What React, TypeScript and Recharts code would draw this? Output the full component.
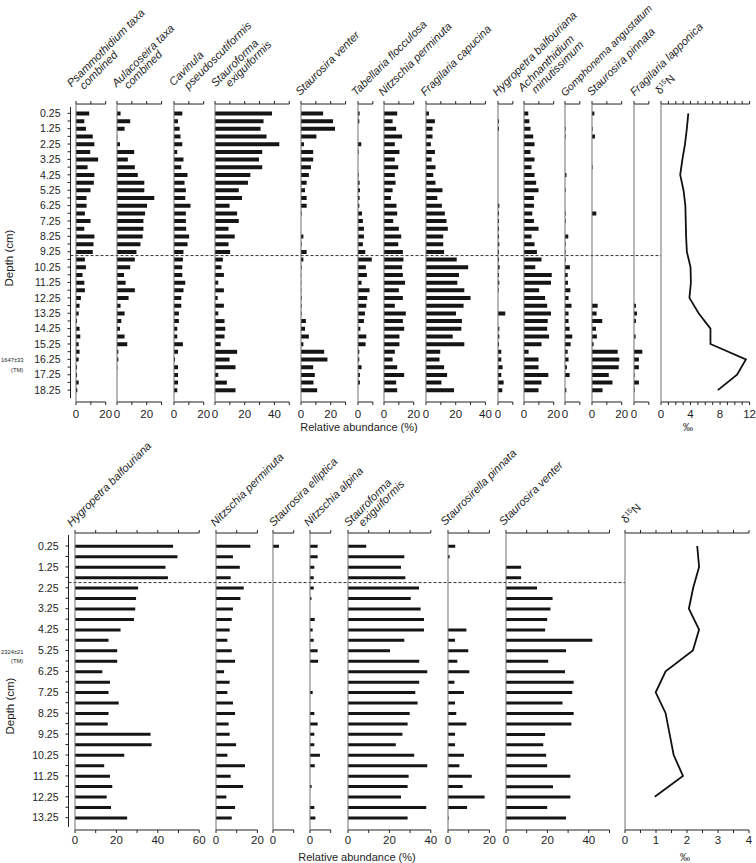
import React from "react";
import { Bar, ComposedChart, Line, ReferenceLine, XAxis, YAxis } from "recharts";

const FONT = "'Liberation Sans', Arial, Helvetica, sans-serif";

// depth categories (cm)
const topDepths = [0.25, 0.75, 1.25, 1.75, 2.25, 2.75, 3.25, 3.75, 4.25, 4.75, 5.25, 5.75, 6.25, 6.75, 7.25, 7.75, 8.25, 8.75, 9.25, 9.75, 10.25, 10.75, 11.25, 11.75, 12.25, 12.75, 13.25, 13.75, 14.25, 14.75, 15.25, 15.75, 16.25, 16.75, 17.25, 17.75, 18.25];
const bottomDepths = [0.25, 0.75, 1.25, 1.75, 2.25, 2.75, 3.25, 3.75, 4.25, 4.75, 5.25, 5.75, 6.25, 6.75, 7.25, 7.75, 8.25, 8.75, 9.25, 9.75, 10.25, 10.75, 11.25, 11.75, 12.25, 12.75, 13.25];
const topIsoDepths = [0.25, 1.25, 2.25, 3.25, 4.25, 5.25, 6.25, 7.25, 8.25, 9.25, 10.25, 11.25, 12.25, 13.25, 14.25, 15.25, 16.25, 17.25, 18.25];
const bottomIsoDepths = [0.25, 1.25, 2.25, 3.25, 4.25, 5.25, 6.25, 7.25, 8.25, 9.25, 10.25, 11.25, 12.25];

// upper core, relative abundance (%)
const psam = [8.9, 5.6, 6.7, 11.3, 12.4, 9.6, 14.9, 7.8, 12.4, 12.0, 9.8, 7.1, 7.1, 6.0, 9.8, 5.6, 12.4, 11.8, 11.3, 6.0, 6.7, 4.4, 5.6, 6.0, 3.3, 2.4, 1.8, 0.7, 2.4, 2.9, 1.8, 2.4, 1.8, 0.7, 0.7, 1.8, 0.9];
const aulac = [2.4, 8.9, 5.1, 0.2, 2.0, 11.6, 7.3, 12.0, 14.0, 18.4, 18.4, 25.1, 20.2, 18.9, 17.8, 17.8, 17.3, 15.8, 13.1, 12.0, 8.9, 4.7, 5.8, 12.0, 7.8, 2.4, 5.1, 2.9, 2.0, 5.1, 6.9, 0.9, 0.9, 0.2, 0, 0, 0];
const cavinula = [5.6, 2.7, 3.8, 4.4, 5.6, 2.2, 6.4, 4.9, 9.1, 7.1, 8.0, 7.6, 11.1, 8.0, 8.0, 8.2, 10.2, 9.1, 6.4, 6.0, 5.6, 5.6, 7.6, 6.4, 4.9, 4.9, 3.3, 3.3, 2.2, 2.2, 6.0, 2.7, 0.7, 2.7, 2.7, 2.7, 2.2];
const stauroforma = [38.4, 32.7, 30.7, 34.7, 43.3, 31.8, 29.6, 31.8, 23.8, 22.2, 16.0, 18.2, 9.8, 14.9, 16.0, 9.1, 13.3, 9.1, 10.2, 5.3, 4.4, 6.0, 2.2, 6.0, 1.8, 6.0, 2.2, 6.4, 6.9, 6.4, 3.8, 14.9, 9.8, 13.8, 2.2, 8.0, 13.8];
const venter = [14.9, 21.6, 22.9, 10.4, 2.0, 8.2, 8.2, 6.7, 5.3, 3.8, 2.7, 3.8, 3.8, 0.4, 0, 0, 1.6, 0.4, 3.8, 1.6, 0.4, 0.2, 0.2, 0.2, 0.4, 0.4, 0.4, 3.3, 2.7, 5.3, 1.6, 15.6, 17.8, 8.2, 9.3, 8.4, 10.9];
const tabellaria = [1.1, 0.9, 0, 0, 2.2, 0.4, 0, 0, 0.4, 1.1, 1.3, 1.1, 0.9, 2.7, 3.3, 4.0, 4.0, 3.3, 4.9, 9.3, 5.3, 6.0, 2.4, 7.8, 6.2, 5.6, 4.7, 4.0, 1.6, 5.6, 5.1, 0.9, 0.9, 2.4, 1.3, 1.3, 0];
const nPerminuta = [8.9, 5.8, 8.2, 12.2, 7.3, 10.4, 7.3, 9.6, 7.3, 7.8, 5.8, 4.7, 8.4, 8.9, 6.2, 10.0, 11.6, 9.6, 12.7, 13.1, 12.2, 12.7, 14.2, 10.0, 12.7, 7.3, 14.7, 12.7, 13.6, 10.4, 10.4, 7.3, 5.8, 8.9, 13.6, 8.2, 8.9];
const fCapucina = [2.0, 6.0, 4.4, 4.4, 3.3, 6.0, 3.8, 6.4, 4.9, 6.4, 11.1, 7.6, 10.7, 12.7, 13.8, 14.7, 11.6, 11.6, 12.2, 20.7, 28.4, 22.2, 21.1, 25.8, 30.0, 25.3, 20.2, 24.2, 23.8, 18.0, 25.8, 9.6, 9.1, 12.2, 14.2, 10.4, 18.9];
const hygropetra = [0, 0.7, 0.7, 0, 0, 0, 0, 0, 0, 0, 0, 0, 0.9, 0.7, 0.7, 0.7, 0.7, 0.9, 0.7, 0.7, 1.1, 0.7, 0.9, 0.4, 0, 0, 4.9, 0, 0.9, 0.9, 0.7, 2.2, 2.2, 3.1, 2.2, 3.8, 2.9];
const achnanthidium = [2.9, 3.6, 4.4, 6.2, 7.1, 4.4, 7.1, 5.1, 7.1, 8.2, 9.8, 6.7, 6.7, 5.6, 6.7, 9.8, 5.1, 7.1, 8.7, 11.8, 7.6, 18.7, 18.2, 10.2, 14.2, 15.6, 18.2, 16.0, 15.6, 16.9, 11.8, 3.1, 9.8, 9.8, 16.4, 11.8, 9.8];
const gomphonema = [0, 0, 0.4, 0.4, 0, 0, 0, 0, 1.0, 0, 0.4, 0, 0, 0.4, 0.4, 0, 2.2, 0.4, 0.4, 0.4, 3.3, 1.8, 2.0, 3.6, 2.4, 4.4, 2.4, 2.4, 3.1, 4.9, 3.8, 1.8, 2.4, 1.3, 3.1, 0, 0.9];
const sPinnata = [1.6, 0, 0.4, 2.0, 0, 0, 0, 0.4, 0, 0, 0, 0, 0, 2.9, 0, 0, 0, 0, 0, 0, 0, 0, 0, 0, 0, 3.8, 3.1, 6.9, 2.7, 3.3, 1.1, 17.3, 18.4, 18.0, 11.3, 13.8, 7.1];
const fLapponica = [0, 0, 0, 0, 0, 0, 0, 0, 0, 0, 0, 0, 0, 0, 0, 0, 0, 0, 0, 0, 0, 0, 0, 0, 0, 1.3, 2.0, 1.3, 0, 1.1, 0, 5.6, 3.3, 3.3, 0.4, 3.3, 0.4];
const topD15N = [3.7, 3.5, 3.25, 2.9, 2.6, 3.05, 3.3, 3.35, 3.4, 3.5, 4.0, 4.05, 3.85, 5.1, 6.7, 6.7, 11.5, 10.3, 7.7];

// lower core, relative abundance (%)
const hygropetraB = [47.4, 49.5, 43.7, 44.9, 30.5, 29.5, 29.1, 28.5, 22.0, 16.2, 20.4, 20.4, 13.2, 16.9, 16.2, 21.1, 16.2, 15.8, 36.5, 37.0, 23.8, 14.1, 16.9, 18.0, 15.3, 17.4, 25.2];
const nPerminutaB = [16.6, 8.2, 11.5, 7.1, 13.4, 11.8, 8.2, 7.6, 6.6, 5.5, 7.6, 9.2, 3.9, 6.6, 5.5, 8.2, 9.2, 6.1, 6.6, 9.7, 5.5, 14.0, 7.1, 13.1, 5.0, 9.2, 7.6];
const ellipticaB = [2.9, 0, 0, 0, 0, 0, 0, 0, 0, 0, 0, 0, 0, 0, 0, 0, 0, 0, 0, 0, 0, 0, 0, 0, 0, 0, 0];
const alpinaB = [3.7, 3.7, 2.1, 1.8, 1.8, 0.7, 0, 2.3, 1.3, 1.8, 3.7, 3.9, 0, 0, 1.3, 0, 2.1, 3.7, 2.1, 2.1, 4.8, 2.3, 0, 0.8, 0, 2.1, 2.6];
const staurofB = [8.8, 27.2, 25.6, 27.7, 34.3, 30.3, 35.1, 36.7, 36.7, 27.2, 20.3, 34.4, 38.3, 34.4, 32.5, 33.6, 29.8, 28.8, 26.3, 23.1, 32.0, 38.3, 29.3, 28.8, 25.6, 37.8, 28.8];
const pinnataB = [3.5, 0.8, 0, 0, 0, 0, 0, 0, 8.9, 3.4, 9.8, 4.5, 10.3, 3.1, 7.7, 3.4, 4.0, 8.9, 3.4, 3.4, 7.7, 5.5, 11.5, 7.1, 17.7, 9.2, 0.3];
const venterB = [0, 0, 7.3, 7.3, 15.0, 22.5, 21.5, 19.9, 18.9, 41.7, 29.0, 20.4, 28.5, 32.7, 32.0, 27.3, 32.7, 31.6, 18.9, 18.0, 19.4, 19.9, 31.1, 22.7, 31.1, 19.9, 29.0];
const bottomD15N = [2.33, 2.39, 2.2, 2.06, 2.39, 2.19, 1.31, 0.99, 1.31, 1.44, 1.57, 1.87, 0.96];

const topRows = topDepths.map((depth, i) => ({
  depth,
  psam: psam[i], aulac: aulac[i], cav: cavinula[i], stauf: stauroforma[i], venter: venter[i],
  tab: tabellaria[i], nperm: nPerminuta[i], fcap: fCapucina[i], hyg: hygropetra[i],
  achn: achnanthidium[i], gomph: gomphonema[i], spinn: sPinnata[i], flapp: fLapponica[i],
}));
const bottomRows = bottomDepths.map((depth, i) => ({
  depth,
  hyg: hygropetraB[i], nperm: nPerminutaB[i], ellip: ellipticaB[i], alpina: alpinaB[i],
  stauf: staurofB[i], pinn: pinnataB[i], venter: venterB[i],
}));
const topIso = topIsoDepths.map((depth, i) => ({ depth, d15n: topD15N[i] }));
const bottomIso = bottomIsoDepths.map((depth, i) => ({ depth, d15n: bottomD15N[i] }));

type Title = [string, number, number, number?];
type Col = { key: string; x0: number; max: number; ticks: number[]; labels: number[]; title?: Title[]; width?: number };
type Panel = {
  y0: number; k: number; scale: number; plotTop: number; plotBottom: number;
  axisTop: number; axisBottom: number; axisX: number; dash: number; dashRight: number;
  ticks: number[]; tickMargin: number; barSize: number;
};

const topPanel: Panel = {
  y0: 113.3, k: 15.38, scale: 1.485, plotTop: 104, plotBottom: 402,
  axisTop: 107, axisBottom: 398, axisX: 70.5, dash: 9.5, dashRight: 661,
  ticks: topDepths, tickMargin: 5, barSize: 4,
};
const bottomPanel: Panel = {
  y0: 546, k: 20.9, scale: 2.07, plotTop: 533, plotBottom: 830,
  axisTop: 535, axisBottom: 827, axisX: 68.5, dash: 2.0, dashRight: 625,
  ticks: bottomDepths, tickMargin: 3, barSize: 3,
};

const topCols: Col[] = [
  { key: "psam", x0: 75.5, max: 20, ticks: [0, 10, 20], labels: [0, 20], title: [["Psammothidium taxa", 71.5, 87.5], ["combined", 84, 90]] },
  { key: "aulac", x0: 116.5, max: 30, ticks: [0, 10, 20, 30], labels: [0, 20], title: [["Aulacoseira taxa", 116.5, 87.5], ["combined", 128.5, 89.5]] },
  { key: "cav", x0: 173.5, max: 20, ticks: [0, 10, 20], labels: [0, 20], title: [["Cavinula", 173.5, 86.5], ["pseudoscutiformis", 188.5, 90]] },
  { key: "stauf", x0: 215, max: 50, ticks: [0, 10, 20, 30, 40, 50], labels: [0, 20, 40], title: [["Stauroforma", 215.5, 87.5], ["exiguiformis", 230, 87.5]] },
  { key: "venter", x0: 301, max: 30, ticks: [0, 10, 20, 30], labels: [0, 20], title: [["Staurosira venter", 300, 96]] },
  { key: "tab", x0: 357.5, max: 10, ticks: [0, 10], labels: [0], title: [["Tabellaria flocculosa", 356, 96.5]] },
  { key: "nperm", x0: 383.5, max: 20, ticks: [0, 10, 20], labels: [0, 20], title: [["Nitzschia perminuta", 383, 96.5]] },
  { key: "fcap", x0: 425.7, max: 40, ticks: [0, 10, 20, 30, 40], labels: [0, 20, 40], title: [["Fragilaria capucina", 425, 96.5]] },
  { key: "hyg", x0: 497.5, max: 10, ticks: [0, 10], labels: [0], title: [["Hygropetra balfouriana", 497, 96.5]] },
  { key: "achn", x0: 523.7, max: 20, ticks: [0, 10, 20], labels: [0, 20], title: [["Achnanthidium", 522.5, 92], ["minutissimum", 536, 94]] },
  { key: "gomph", x0: 565.3, max: 10, ticks: [0, 10], labels: [0], title: [["Gomphonema angustatum", 565, 97, 10.5]] },
  { key: "spinn", x0: 592.3, max: 20, ticks: [0, 10, 20], labels: [0, 20], title: [["Staurosira pinnata", 591.5, 96.5]] },
  { key: "flapp", x0: 633.7, max: 10, ticks: [0, 10], labels: [0], title: [["Fragilaria lapponica", 634.5, 96.5]] },
];
const topIsoCol: Col = { key: "d15n", x0: 660.7, width: 88.6, max: 12, ticks: [0, 1, 2, 3, 4, 5, 6, 7, 8, 9, 10, 11, 12], labels: [0, 4, 8, 12] };

const bottomCols: Col[] = [
  { key: "hyg", x0: 75, max: 60, ticks: [0, 10, 20, 30, 40, 50, 60], labels: [0, 20, 40, 60], title: [["Hygropetra balfouriana", 71.5, 527]] },
  { key: "nperm", x0: 215.7, max: 20, ticks: [0, 10, 20], labels: [0, 20], title: [["Nitzschia perminuta", 215, 527]] },
  { key: "ellip", x0: 273.3, max: 10, ticks: [0, 10], labels: [0], title: [["Staurosira elliptica", 273.5, 527]] },
  { key: "alpina", x0: 310, max: 10, ticks: [0, 10], labels: [0], title: [["Nitzschia alpina", 308.5, 527]] },
  { key: "stauf", x0: 347.7, max: 40, ticks: [0, 10, 20, 30, 40], labels: [0, 20, 40], title: [["Stauroforma", 348.5, 527], ["exiguiformis", 363, 527]] },
  { key: "pinn", x0: 447.7, max: 20, ticks: [0, 10, 20], labels: [0, 20], title: [["Staurosirella pinnata", 445, 526]] },
  { key: "venter", x0: 505.7, max: 50, ticks: [0, 10, 20, 30, 40, 50], labels: [0, 20, 40], title: [["Staurosira venter", 503.5, 526]] },
];
const bottomIsoCol: Col = { key: "d15n", x0: 625.3, width: 124, max: 4, ticks: [0, 0.5, 1, 1.5, 2, 2.5, 3, 3.5, 4], labels: [0, 1, 2, 3, 4] };

const depthDomain = (p: Panel, top: number, bottom: number): [number, number] => [
  0.25 + (top - p.y0) / p.k,
  0.25 + (bottom - p.y0) / p.k,
];

const PAD = 16;
const TOP_H = 8;
const BOT_H = 34;
const noLabel = () => "";

function Column({ rows, col, panel, line }: { rows: any[]; col: Col; panel: Panel; line?: boolean }) {
  const w = col.width ?? col.max * panel.scale;
  const h = panel.plotBottom - panel.plotTop + TOP_H + BOT_H;
  const fmt = (v: number) => (col.labels.includes(v) ? String(v) : "");
  return (
    <div style={{ position: "absolute", left: col.x0 - PAD, top: panel.plotTop - TOP_H }}>
      <ComposedChart layout="vertical" width={w + 2 * PAD} height={h} data={rows} margin={{ top: 0, right: PAD, bottom: 0, left: PAD - 1 }}>
        <XAxis
          xAxisId="t" orientation="top" type="number" domain={[0, col.max]} ticks={col.ticks} interval={0}
          tickFormatter={noLabel} tick={{ fontSize: 1 }} tickSize={3} tickMargin={0} height={TOP_H} stroke="#222" allowDataOverflow
        />
        <XAxis
          xAxisId="b" orientation="bottom" type="number" domain={[0, col.max]} ticks={col.ticks} interval={0}
          tickFormatter={fmt} tickSize={3} tickMargin={panel.tickMargin} height={BOT_H} stroke="#222"
          tick={{ fontSize: 11.5, fill: "#1e1e1e", fontFamily: FONT }} allowDataOverflow
        />
        <YAxis
          yAxisId="d" type="number" dataKey="depth" allowDataOverflow
          domain={depthDomain(panel, panel.plotTop, panel.plotBottom)}
          width={1} tick={false} tickLine={false} axisLine={{ stroke: "#707070" }}
        />
        {line ? (
          <Line xAxisId="b" yAxisId="d" dataKey={col.key} stroke="#111" strokeWidth={1.8} dot={false} isAnimationActive={false} />
        ) : (
          <Bar xAxisId="b" yAxisId="d" dataKey={col.key} barSize={panel.barSize} fill="#151515" isAnimationActive={false} />
        )}
      </ComposedChart>
    </div>
  );
}

function DepthAxis({ rows, panel }: { rows: any[]; panel: Panel }) {
  const fmt = (v: number) => (Math.round((v - 0.25) * 2) % 2 === 0 ? v.toFixed(2) : "");
  return (
    <div style={{ position: "absolute", left: 0, top: panel.axisTop }}>
      <ComposedChart layout="vertical" width={panel.dashRight} height={panel.axisBottom - panel.axisTop} data={rows} margin={{ top: 0, right: 0, bottom: 0, left: 0 }}>
        <XAxis xAxisId="x" type="number" domain={[0, 1]} hide allowDataOverflow />
        <YAxis
          yAxisId="d" type="number" dataKey="depth" allowDataOverflow
          domain={depthDomain(panel, panel.axisTop, panel.axisBottom)}
          ticks={panel.ticks} interval={0} tickFormatter={fmt} width={panel.axisX}
          tickSize={3} tickMargin={7} stroke="#222"
          tick={{ fontSize: 10.5, fill: "#1e1e1e", fontFamily: FONT }}
        />
        <ReferenceLine xAxisId="x" yAxisId="d" y={panel.dash} stroke="#333" strokeDasharray="3 2" strokeWidth={1} ifOverflow="visible" />
      </ComposedChart>
    </div>
  );
}

function Header({ title }: { title: Title[] }) {
  return (
    <>
      {title.map(([t, x, y, size]) => (
        <text key={t + x} x={x} y={y} transform={`rotate(-45 ${x} ${y})`} fontSize={size ?? 11.2} fontStyle="italic" fill="#1e1e1e">
          {t}
        </text>
      ))}
    </>
  );
}

function Delta({ x, y }: { x: number; y: number }) {
  return (
    <text x={x} y={y} transform={`rotate(-45 ${x} ${y})`} fontSize={11.2} fill="#1e1e1e">
      δ<tspan fontSize={7} dy={-4.5}>15</tspan>
      <tspan dy={4.5}>N</tspan>
    </text>
  );
}

export default function App() {
  return (
    <div style={{ position: "absolute", left: 0, top: 0, width: 756, height: 863, background: "#fff", fontFamily: FONT, overflow: "hidden" }}>
      <DepthAxis rows={topRows} panel={topPanel} />
      <DepthAxis rows={bottomRows} panel={bottomPanel} />
      {topCols.map((c) => (
        <Column key={"t" + c.key} rows={topRows} col={c} panel={topPanel} />
      ))}
      <Column rows={topIso} col={topIsoCol} panel={topPanel} line />
      {bottomCols.map((c) => (
        <Column key={"b" + c.key} rows={bottomRows} col={c} panel={bottomPanel} />
      ))}
      <Column rows={bottomIso} col={bottomIsoCol} panel={bottomPanel} line />

      <svg width={756} height={863} style={{ position: "absolute", left: 0, top: 0, pointerEvents: "none" }} fontFamily={FONT}>
        {topCols.map((c) => c.title && <Header key={"th" + c.key} title={c.title} />)}
        {bottomCols.map((c) => c.title && <Header key={"bh" + c.key} title={c.title} />)}
        <Delta x={660} y={95} />
        <Delta x={626} y={524} />

        <text x={10} y={258} transform="rotate(-90 10 258)" textAnchor="middle" dominantBaseline="middle" fontSize={11.5} fill="#1e1e1e">Depth (cm)</text>
        <text x={11} y={706} transform="rotate(-90 11 706)" textAnchor="middle" dominantBaseline="middle" fontSize={11.5} fill="#1e1e1e">Depth (cm)</text>

        <text x={1} y={362} fontSize={5.8} fill="#1e1e1e">1647±33</text>
        <text x={11} y={371.5} fontSize={5.8} fill="#1e1e1e">(TM)</text>
        <text x={1} y={653.5} fontSize={5.8} fill="#1e1e1e">2324±21</text>
        <text x={11} y={663} fontSize={5.8} fill="#1e1e1e">(TM)</text>

        <text x={359} y={431} textAnchor="middle" fontSize={11} fill="#1e1e1e">Relative abundance (%)</text>
        <text x={357} y={861} textAnchor="middle" fontSize={11} fill="#1e1e1e">Relative abundance (%)</text>
        <text x={688} y={431} textAnchor="middle" fontSize={10} fill="#1e1e1e">‰</text>
        <text x={685} y={861} textAnchor="middle" fontSize={10} fill="#1e1e1e">‰</text>
      </svg>
    </div>
  );
}
